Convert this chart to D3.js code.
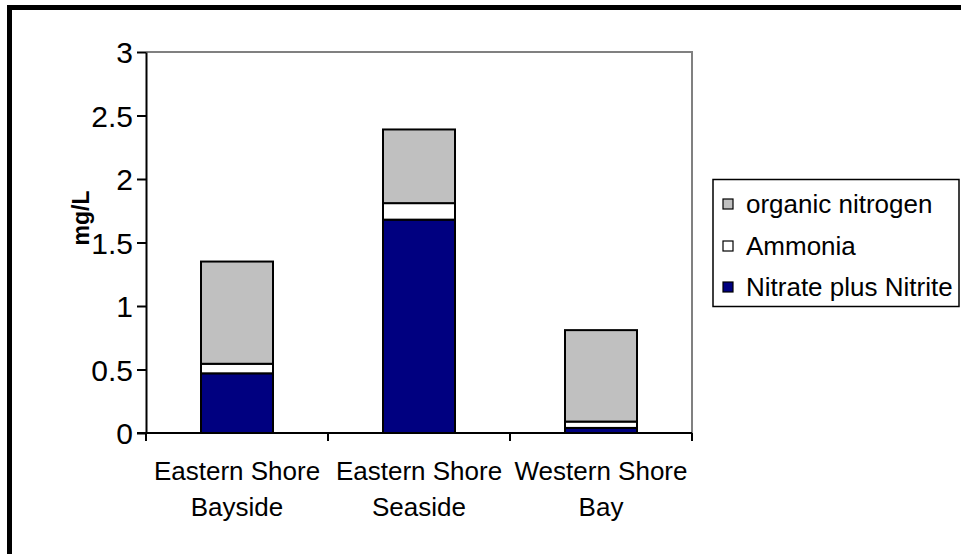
<!DOCTYPE html>
<html>
<head>
<meta charset="utf-8">
<script src="https://cdn.jsdelivr.net/npm/d3@7"></script>
<style>
  html, body { margin: 0; padding: 0; background: #fff; }
  svg { display: block; font-family: "Liberation Sans", Arial, sans-serif; }
</style>
</head>
<body>
<svg id="chart" width="961" height="554"></svg>
<script>
// Nitrogen fractions (mg/L) by region
const regions = [["Eastern Shore", "Bayside"], ["Eastern Shore", "Seaside"], ["Western Shore", "Bay"]];
const regionKeys = ["ESB", "ESS", "WSB"];
const nitrateNitrite = [0.47, 1.68, 0.04];
const ammonia = [0.075, 0.13, 0.05];
const organicNitrogen = [0.805, 0.58, 0.72];
const yTicks = [0, 0.5, 1, 1.5, 2, 2.5, 3];
const yTickLabels = ["0", "0.5", "1", "1.5", "2", "2.5", "3"];
const seriesNames = ["Nitrate plus Nitrite", "Ammonia", "organic nitrogen"];
const seriesColors = ["#000080", "#FFFFFF", "#C0C0C0"];

const svg = d3.select("#chart");
const W = 961, H = 554;
const plot = { left: 146, right: 692, top: 52, bottom: 433 };
const FONT = "'Liberation Sans', Arial, sans-serif";

// outer frame
svg.append("rect")
  .attr("x", 9.5).attr("y", 7.5)
  .attr("width", W + 10).attr("height", H + 10)
  .attr("fill", "none").attr("stroke", "#000").attr("stroke-width", 5);

const x = d3.scaleBand()
  .domain(regionKeys)
  .range([plot.left, plot.right])
  .paddingInner(1 - 72 / 182)
  .paddingOuter((1 - 72 / 182) / 2);

const y = d3.scaleLinear().domain([0, 3]).range([plot.bottom, plot.top]);

// plot frame: grey top and right edges
svg.append("path")
  .attr("d", `M${plot.left},${y(3)}H${plot.right}V${plot.bottom}`)
  .attr("fill", "none").attr("stroke", "#808080").attr("stroke-width", 2);

// stacked data
const rows = regionKeys.map((k, i) => ({
  key: k,
  "Nitrate plus Nitrite": nitrateNitrite[i],
  "Ammonia": ammonia[i],
  "organic nitrogen": organicNitrogen[i]
}));
const stacked = d3.stack().keys(seriesNames)(rows);

svg.append("g").selectAll("g")
  .data(stacked)
  .join("g")
  .attr("fill", (d, i) => seriesColors[i])
  .selectAll("rect")
  .data(d => d)
  .join("rect")
  .attr("x", d => x(d.data.key))
  .attr("width", x.bandwidth())
  .attr("y", d => y(d[1]))
  .attr("height", d => y(d[0]) - y(d[1]))
  .attr("stroke", "#000").attr("stroke-width", 2);

// y axis
const yAxis = svg.append("g")
  .attr("transform", `translate(${plot.left},0)`)
  .call(d3.axisLeft(y).tickValues(yTicks).tickFormat((d, i) => yTickLabels[i]).tickSize(9).tickSizeOuter(0).tickPadding(4));
yAxis.attr("font-family", FONT).attr("font-size", 30);
yAxis.select(".domain").attr("stroke", "#000").attr("stroke-width", 2);
yAxis.selectAll(".tick line").attr("stroke", "#000").attr("stroke-width", 2);
yAxis.selectAll(".tick text")
  .attr("fill", "#000")
  .attr("dy", "0.36em");

// x axis with ticks at category boundaries
const xAxisG = svg.append("g");
xAxisG.append("line")
  .attr("x1", plot.left - 9).attr("x2", plot.right)
  .attr("y1", plot.bottom).attr("y2", plot.bottom)
  .attr("stroke", "#000").attr("stroke-width", 2);
const boundaries = regionKeys.map(k => x(k) - x.step() * x.paddingOuter()).concat([plot.right]);
xAxisG.selectAll("line.tk")
  .data(boundaries)
  .join("line").attr("class", "tk")
  .attr("x1", d => d).attr("x2", d => d)
  .attr("y1", plot.bottom).attr("y2", plot.bottom + 8)
  .attr("stroke", "#000").attr("stroke-width", 2);

const catLabels = xAxisG.selectAll("text.cat")
  .data(regions)
  .join("text").attr("class", "cat")
  .attr("text-anchor", "middle")
  .attr("font-size", 26)
  .attr("fill", "#000");
catLabels.each(function (d, i) {
  const cx = x(regionKeys[i]) + x.bandwidth() / 2;
  d3.select(this).selectAll("tspan")
    .data(d)
    .join("tspan")
    .attr("x", cx)
    .attr("y", (t, j) => 480 + j * 36)
    .text(t => t);
});

// y axis title
svg.append("text")
  .attr("transform", `translate(89,218) rotate(-90)`)
  .attr("text-anchor", "middle")
  .attr("font-size", 23)
  .attr("font-weight", "bold")
  .attr("fill", "#000")
  .text("mg/L");

// legend
const legend = svg.append("g");
legend.append("rect")
  .attr("x", 713).attr("y", 179.5).attr("width", 246).attr("height", 127)
  .attr("fill", "#fff").attr("stroke", "#000").attr("stroke-width", 1.5);
const legendOrder = [2, 1, 0];
const legendRowY = [204, 246, 287];
legendOrder.forEach((si, r) => {
  legend.append("rect")
    .attr("x", 723).attr("y", legendRowY[r] - 5)
    .attr("width", 10).attr("height", 10)
    .attr("fill", seriesColors[si]).attr("stroke", "#000").attr("stroke-width", 1.2);
  legend.append("text")
    .attr("x", 746).attr("y", legendRowY[r])
    .attr("dy", "0.36em")
    .attr("font-size", 26)
    .attr("fill", "#000")
    .text(seriesNames[si]);
});
</script>
</body>
</html>
